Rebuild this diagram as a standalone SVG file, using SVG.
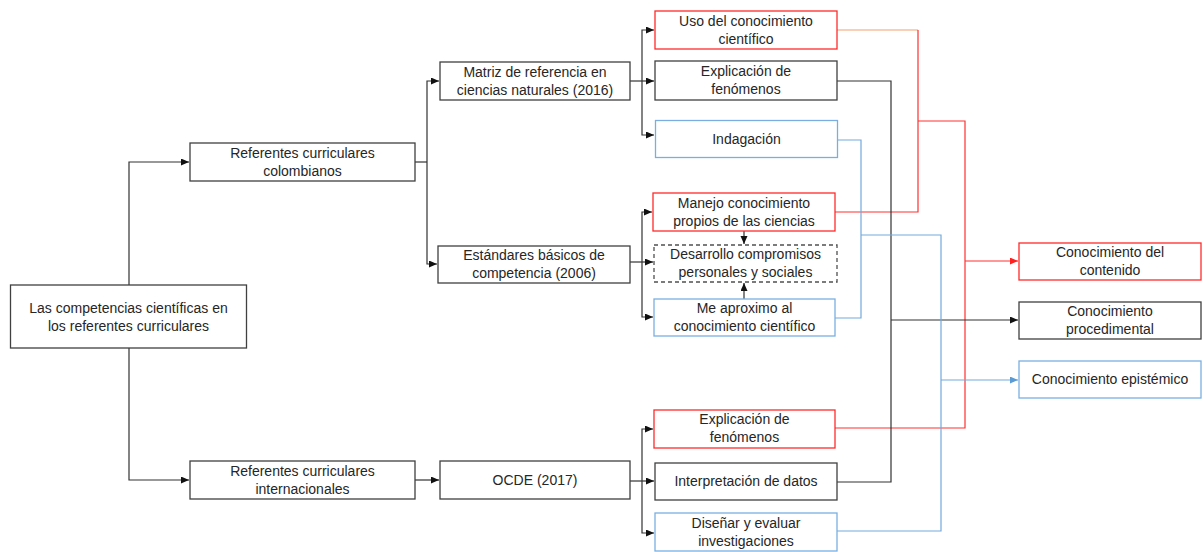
<svg xmlns="http://www.w3.org/2000/svg" width="1203" height="552" viewBox="0 0 1203 552">
  <style>
    .box { fill: #ffffff; stroke-width: 1.3; }
    .k { stroke: #404040; }
    .r { stroke: #ff2a2a; }
    .b { stroke: #7aaee0; }
    .d { stroke: #505050; stroke-dasharray: 4 3; }
    text { font-family: "Liberation Sans", Arial, sans-serif; font-size: 14px; fill: #262626; text-anchor: middle; }
    .ln { fill: none; stroke-width: 1.2; }
    .lk { stroke: #333333; }
    .lr { stroke: #ff3030; }
    .lo { stroke: #f4a070; }
    .lb { stroke: #74a9dc; }
  </style>
  <defs>
    <marker id="ak" markerUnits="userSpaceOnUse" markerWidth="9" markerHeight="8" refX="8" refY="3.5" orient="auto">
      <path d="M0,0 L8,3.5 L0,7 z" fill="#111111"/>
    </marker>
    <marker id="ar" markerUnits="userSpaceOnUse" markerWidth="9" markerHeight="8" refX="8" refY="3.5" orient="auto">
      <path d="M0,0 L8,3.5 L0,7 z" fill="#ff2020"/>
    </marker>
    <marker id="ab" markerUnits="userSpaceOnUse" markerWidth="9" markerHeight="8" refX="8" refY="3.5" orient="auto">
      <path d="M0,0 L8,3.5 L0,7 z" fill="#5b9bd5"/>
    </marker>
  </defs>

  <g id="connectors">
    <!-- root to the two branches -->
    <path class="ln lk" d="M129,285 V162 H189" marker-end="url(#ak)"/>
    <path class="ln lk" d="M129,348 V480 H189" marker-end="url(#ak)"/>
    <!-- colombian references -->
    <path class="ln lk" d="M415,162 H427"/>
    <path class="ln lk" d="M427,162 V81 H439" marker-end="url(#ak)"/>
    <path class="ln lk" d="M427,162 V264 H437" marker-end="url(#ak)"/>
    <!-- matriz de referencia -->
    <path class="ln lk" d="M630,81 H654" marker-end="url(#ak)"/>
    <path class="ln lk" d="M642,81 V30 H654" marker-end="url(#ak)"/>
    <path class="ln lk" d="M642,81 V135 H654" marker-end="url(#ak)"/>
    <!-- estandares basicos -->
    <path class="ln lk" d="M630,262 H653" marker-end="url(#ak)"/>
    <path class="ln lk" d="M642,262 V212 H652" marker-end="url(#ak)"/>
    <path class="ln lk" d="M642,262 V317 H653" marker-end="url(#ak)"/>
    <path class="ln lk" d="M744,231 V244" marker-end="url(#ak)"/>
    <path class="ln lk" d="M744,299 V283" marker-end="url(#ak)"/>
    <!-- international references -->
    <path class="ln lk" d="M415,480 H439" marker-end="url(#ak)"/>
    <path class="ln lk" d="M630,481 H654" marker-end="url(#ak)"/>
    <path class="ln lk" d="M642,481 V429 H653" marker-end="url(#ak)"/>
    <path class="ln lk" d="M642,481 V533 H654" marker-end="url(#ak)"/>

    <!-- content knowledge (red) -->
    <path class="ln lo" d="M837,30 H918"/>
    <path class="ln lr" d="M918,30 V212 H835"/>
    <path class="ln lr" d="M918,121 H965 V428 H835"/>
    <path class="ln lr" d="M965,261 H1018" marker-end="url(#ar)"/>
    <!-- procedural knowledge (black) -->
    <path class="ln lk" d="M837,81 H891 V482 H837"/>
    <path class="ln lk" d="M891,320 H1018" marker-end="url(#ak)"/>
    <!-- epistemic knowledge (blue) -->
    <path class="ln lb" d="M837,140 H861 V318 H835"/>
    <path class="ln lb" d="M861,235 H941 V531 H837"/>
    <path class="ln lb" d="M941,380 H1018" marker-end="url(#ab)"/>
  </g>

  <g id="root">
    <rect class="box k" x="10.5" y="285" width="236" height="63"/>
    <text x="128.5" y="313">Las competencias científicas en</text>
    <text x="128.5" y="331">los referentes curriculares</text>
  </g>
  <g id="ref-colombianos">
    <rect class="box k" x="190" y="143" width="225" height="38"/>
    <text x="302.5" y="158">Referentes curriculares</text>
    <text x="302.5" y="176">colombianos</text>
  </g>
  <g id="ref-internacionales">
    <rect class="box k" x="190" y="461" width="225" height="38"/>
    <text x="302.5" y="476">Referentes curriculares</text>
    <text x="302.5" y="494">internacionales</text>
  </g>
  <g id="matriz">
    <rect class="box k" x="440" y="62" width="190" height="38"/>
    <text x="535" y="77">Matriz de referencia en</text>
    <text x="535" y="95">ciencias naturales (2016)</text>
  </g>
  <g id="estandares">
    <rect class="box k" x="438" y="246" width="192" height="37"/>
    <text x="534" y="260">Estándares básicos de</text>
    <text x="534" y="278">competencia (2006)</text>
  </g>
  <g id="ocde">
    <rect class="box k" x="440" y="461" width="190" height="38"/>
    <text x="535" y="485">OCDE (2017)</text>
  </g>

  <g id="uso-conocimiento">
    <rect class="box r" x="655" y="11" width="182" height="38"/>
    <text x="746" y="26">Uso del conocimiento</text>
    <text x="746" y="44">científico</text>
  </g>
  <g id="explicacion-1">
    <rect class="box k" x="655" y="61" width="182" height="39"/>
    <text x="746" y="76">Explicación de</text>
    <text x="746" y="94">fenómenos</text>
  </g>
  <g id="indagacion">
    <rect class="box b" x="655.5" y="120.5" width="182" height="37"/>
    <text x="746.5" y="144">Indagación</text>
  </g>
  <g id="manejo">
    <rect class="box r" x="653" y="193" width="182" height="38"/>
    <text x="744" y="208">Manejo conocimiento</text>
    <text x="744" y="226">propios de las ciencias</text>
  </g>
  <g id="desarrollo">
    <rect class="box d" x="654" y="245" width="183" height="37" fill="#ffffff" stroke-width="1.3"/>
    <text x="745.5" y="259">Desarrollo compromisos</text>
    <text x="745.5" y="277">personales y sociales</text>
  </g>
  <g id="me-aproximo">
    <rect class="box b" x="654" y="299" width="181" height="37"/>
    <text x="744.5" y="313">Me aproximo al</text>
    <text x="744.5" y="331">conocimiento científico</text>
  </g>
  <g id="explicacion-2">
    <rect class="box r" x="654" y="410" width="181" height="38"/>
    <text x="744.5" y="424">Explicación de</text>
    <text x="744.5" y="442">fenómenos</text>
  </g>
  <g id="interpretacion">
    <rect class="box k" x="655" y="463" width="182" height="37"/>
    <text x="746" y="486">Interpretación de datos</text>
  </g>
  <g id="disenar">
    <rect class="box b" x="655" y="513" width="182" height="38"/>
    <text x="746" y="528">Diseñar y evaluar</text>
    <text x="746" y="546">investigaciones</text>
  </g>

  <g id="conocimiento-contenido">
    <rect class="box r" x="1019" y="243" width="182" height="37"/>
    <text x="1110" y="257">Conocimiento del</text>
    <text x="1110" y="275">contenido</text>
  </g>
  <g id="conocimiento-procedimental">
    <rect class="box k" x="1019" y="302" width="182" height="37"/>
    <text x="1110" y="316">Conocimiento</text>
    <text x="1110" y="334">procedimental</text>
  </g>
  <g id="conocimiento-epistemico">
    <rect class="box b" x="1019" y="361" width="182" height="37"/>
    <text x="1110" y="384">Conocimiento epistémico</text>
  </g>
</svg>
